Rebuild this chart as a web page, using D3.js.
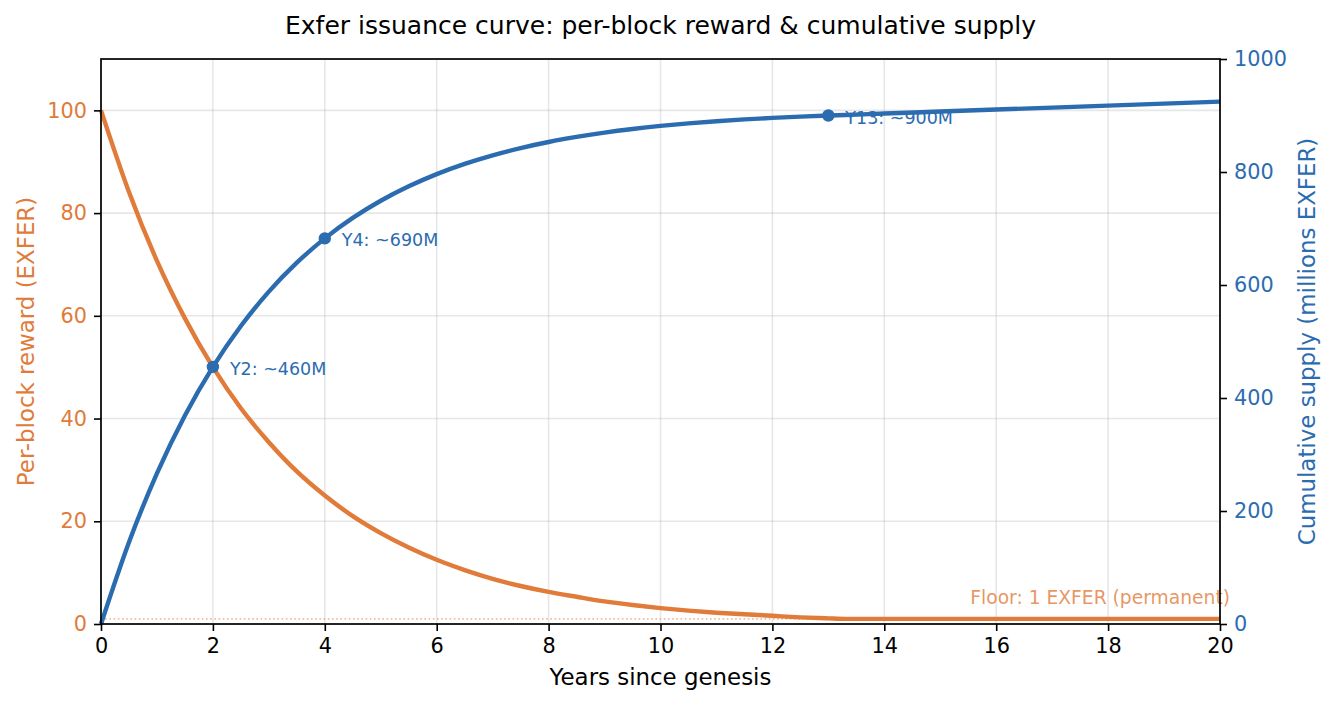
<!DOCTYPE html>
<html>
<head>
<meta charset="utf-8">
<script src="https://cdn.jsdelivr.net/npm/d3@7"></script>
<style>
  body { margin: 0; background: #fff; }
  text { font-family: "DejaVu Sans", sans-serif; }
</style>
</head>
<body>
<div id="chart"></div>
<script>
// values
var years  = [0, 0.5, 1, 1.5, 2, 2.5, 3, 3.5, 4, 4.5, 5, 5.5, 6, 6.5, 7, 7.5, 8, 8.5, 9, 9.5,
              10, 10.5, 11, 11.5, 12, 12.5, 13, 13.3, 14, 15, 16, 17, 18, 19, 20];
var reward = [100, 84.1, 70.7, 59.5, 50, 42.0, 35.4, 29.7, 25, 21.0, 17.7, 14.9, 12.5, 10.5, 8.8, 7.4, 6.25, 5.3, 4.4, 3.7,
              3.1, 2.6, 2.2, 1.9, 1.6, 1.3, 1.1, 1.0, 1, 1, 1, 1, 1, 1, 1];
var supply = [0, 144.8, 266.5, 368.9, 455, 527.4, 588.3, 639.5, 682.5, 718.7, 749.1, 774.7, 796.3, 814.4, 829.6, 842.4, 853.1, 862.1, 869.8, 876.2,
              881.6, 886.1, 889.9, 893.1, 895.8, 898.1, 900.0, 900.9, 903.5, 907, 910.5, 914, 917.5, 921, 924.5];

var markYears  = [2, 4, 13];
var markSupply = [455, 682.5, 900];
var markLabels = ["Y2: ~460M", "Y4: ~690M", "Y13: ~900M"];

var floorValue = 1;
var floorLabel = "Floor: 1 EXFER (permanent)";

var xTicks = [0, 2, 4, 6, 8, 10, 12, 14, 16, 18, 20];
var leftTicks = [0, 20, 40, 60, 80, 100];
var rightTicks = [0, 200, 400, 600, 800, 1000];

var orange = "#e07b39";
var blue = "#2b6cb0";

var width = 1335, height = 705;
var margin = {top: 59, right: 115, bottom: 81, left: 101};
var w = width - margin.left - margin.right;
var h = height - margin.top - margin.bottom;

var svg = d3.select("#chart").append("svg").attr("width", width).attr("height", height);
var g = svg.append("g").attr("transform", "translate(" + margin.left + "," + margin.top + ")");

var x = d3.scaleLinear().domain([0, 20]).range([0, w]);
var yL = d3.scaleLinear().domain([0, 110]).range([h, 0]);
var yR = d3.scaleLinear().domain([0, 1000]).range([h, 0]);

// grid
g.append("g").selectAll("line").data(xTicks).enter().append("line")
  .attr("x1", d => x(d)).attr("x2", d => x(d)).attr("y1", 0).attr("y2", h)
  .attr("stroke", "#b0b0b0").attr("stroke-opacity", 0.3).attr("stroke-width", 1.6);
g.append("g").selectAll("line").data(leftTicks).enter().append("line")
  .attr("y1", d => yL(d)).attr("y2", d => yL(d)).attr("x1", 0).attr("x2", w)
  .attr("stroke", "#b0b0b0").attr("stroke-opacity", 0.3).attr("stroke-width", 1.6);

// floor line
g.append("line")
  .attr("x1", 0).attr("x2", w).attr("y1", yL(floorValue)).attr("y2", yL(floorValue))
  .attr("stroke", orange).attr("stroke-opacity", 0.5).attr("stroke-width", 1.6)
  .attr("stroke-dasharray", "1.6,2.6");

// reward line
var rewardLine = d3.line().x((d, i) => x(years[i])).y(d => yL(d)).curve(d3.curveMonotoneX);
g.append("path").datum(reward).attr("d", rewardLine)
  .attr("fill", "none").attr("stroke", orange).attr("stroke-width", 4.4);

g.append("text")
  .attr("x", x(20.18)).attr("y", yL(3) - 4.5)
  .attr("text-anchor", "end").attr("fill", orange).attr("fill-opacity", 0.8)
  .style("font-size", "18.7px").text(floorLabel);

// milestone labels
g.append("g").selectAll("text").data(markYears).enter().append("text")
  .attr("x", d => x(d) + 17)
  .attr("y", (d, i) => yR(markSupply[i]) + 8)
  .attr("fill", blue).style("font-size", "17.5px")
  .text((d, i) => markLabels[i]);

// supply line
var supplyLine = d3.line().x((d, i) => x(years[i])).y(d => yR(d)).curve(d3.curveMonotoneX);
g.append("path").datum(supply).attr("d", supplyLine)
  .attr("fill", "none").attr("stroke", blue).attr("stroke-width", 4.4);

g.append("g").selectAll("circle").data(markYears).enter().append("circle")
  .attr("cx", d => x(d)).attr("cy", (d, i) => yR(markSupply[i])).attr("r", 6.2)
  .attr("fill", blue);

// axes
var xAxis = g.append("g").attr("transform", "translate(0," + h + ")")
  .call(d3.axisBottom(x).tickValues(xTicks).tickSize(7).tickPadding(7).tickFormat(d3.format("d")));
xAxis.selectAll("text").attr("fill", "#000").style("font-size", "20.8px");

var lAxis = g.append("g")
  .call(d3.axisLeft(yL).tickValues(leftTicks).tickSize(7).tickPadding(7).tickFormat(d3.format("d")));
lAxis.selectAll("text").attr("fill", orange).style("font-size", "20.8px");

var rAxis = g.append("g").attr("transform", "translate(" + w + ",0)")
  .call(d3.axisRight(yR).tickValues(rightTicks).tickSize(7).tickPadding(7).tickFormat(d3.format("d")));
rAxis.selectAll("text").attr("fill", blue).style("font-size", "20.8px");

[xAxis, lAxis, rAxis].forEach(function(a) {
  a.select(".domain").remove();
  a.selectAll(".tick line").attr("stroke", "#000").attr("stroke-width", 1.6);
});

// frame
g.append("rect").attr("x", 0).attr("y", 0).attr("width", w).attr("height", h)
  .attr("fill", "none").attr("stroke", "#000").attr("stroke-width", 1.7);

// labels
svg.append("text").attr("x", margin.left + w / 2).attr("y", 34)
  .attr("text-anchor", "middle").style("font-size", "25px").attr("fill", "#000")
  .text("Exfer issuance curve: per-block reward & cumulative supply");

svg.append("text").attr("x", margin.left + w / 2).attr("y", 685)
  .attr("text-anchor", "middle").style("font-size", "22.9px").attr("fill", "#000")
  .text("Years since genesis");

svg.append("text").attr("transform", "translate(34," + (margin.top + h / 2) + ") rotate(-90)")
  .attr("text-anchor", "middle").style("font-size", "22.9px").attr("fill", orange)
  .text("Per-block reward (EXFER)");

svg.append("text").attr("transform", "translate(1315," + (margin.top + h / 2) + ") rotate(-90)")
  .attr("text-anchor", "middle").style("font-size", "22.9px").attr("fill", blue)
  .text("Cumulative supply (millions EXFER)");
</script>
</body>
</html>
